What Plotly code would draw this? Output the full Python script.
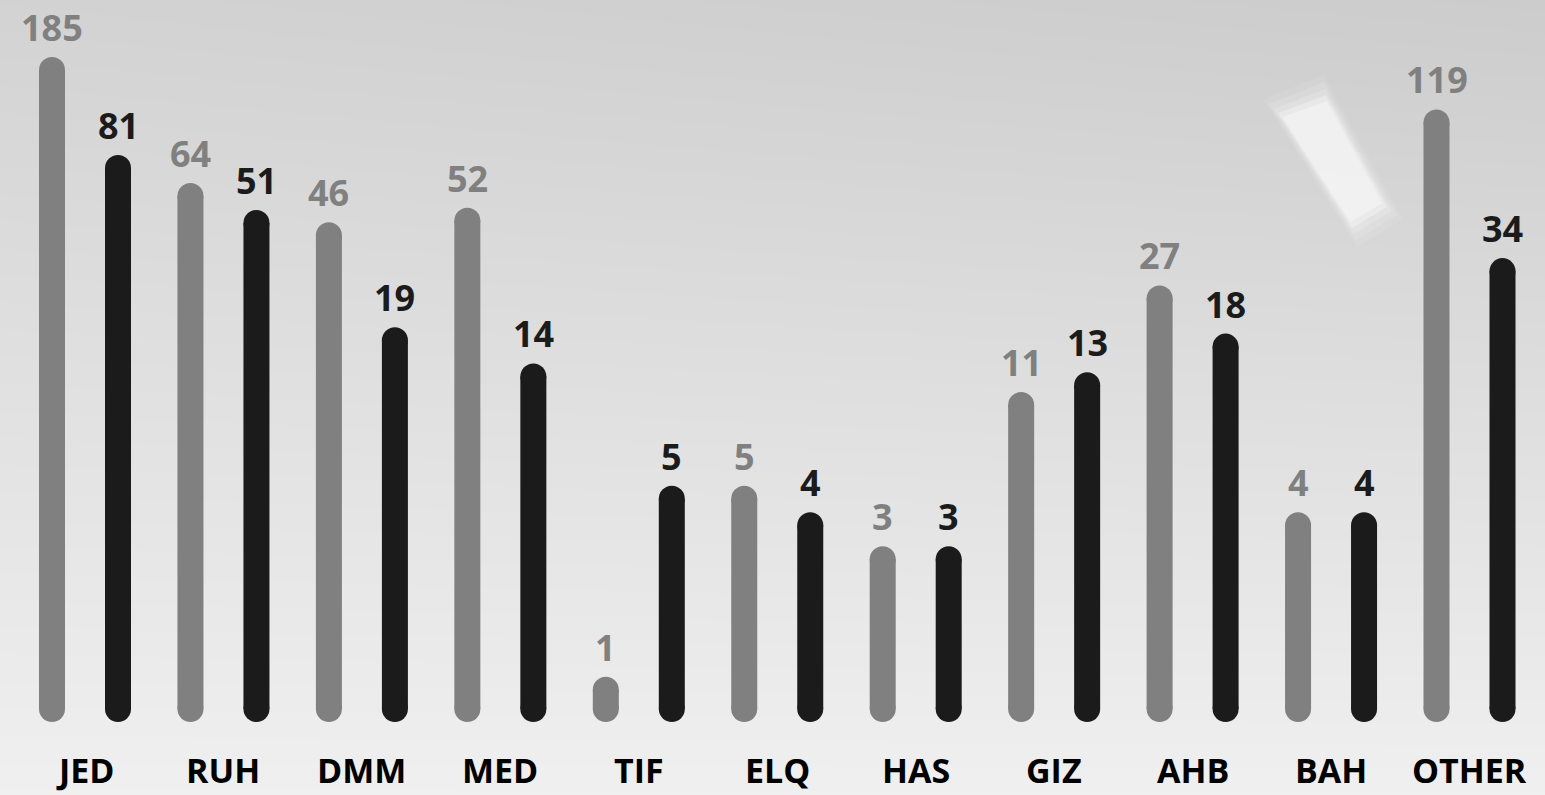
import numpy as np
import plotly.graph_objects as go

# Airport codes and the two series per airport
categories = ["JED", "RUH", "DMM", "MED", "TIF", "ELQ", "HAS", "GIZ", "AHB", "BAH", "OTHER"]
grey_values = [185, 64, 46, 52, 1, 5, 3, 11, 27, 4, 119]
dark_values = [81, 51, 19, 14, 5, 4, 3, 13, 18, 4, 34]

W, H = 1545, 795
GREY = "#808080"
DARK = "#1b1b1b"
FONT = "Open Sans"
BAR_PX = 26

# Log value axis: bars start at BASE, pixel layout of the plot area
BASE = 0.85
base_px_from_bottom = 86          # centre of bottom cap
top_value, top_px_from_bottom = 185, 725
px_per_decade = (top_px_from_bottom - base_px_from_bottom) / (np.log10(top_value) - np.log10(BASE))
y_lo = np.log10(BASE) - base_px_from_bottom / px_per_decade
y_hi = y_lo + H / px_per_decade

# Category axis: one unit per airport, pair centre of the first at 85 px
unit_px = 138.45
x_lo = -85 / unit_px
x_hi = x_lo + W / unit_px
offset = 33 / unit_px

fig = go.Figure()

# Soft grey backdrop (gradient, slightly darker towards the top right)
gx = np.linspace(0, 1, 40)
gy = np.linspace(0, 1, 40)
X, Y = np.meshgrid(gx, gy)
shade = 0.94 - 0.115 * Y - 0.025 * Y * X
fig.add_trace(go.Heatmap(
    x=gx, y=gy, z=shade, zmin=0, zmax=1, zsmooth="best",
    colorscale=[[0, "#000000"], [1, "#ffffff"]], showscale=False,
    hoverinfo="skip", xaxis="x", yaxis="y",
))


def pill_trace(xs, vals, color):
    px, py = [], []
    for x, v in zip(xs, vals):
        px += [x, x, None]
        py += [BASE, v, None]
    return go.Scatter(
        x=px, y=py, mode="lines+markers",
        line=dict(color=color, width=BAR_PX),
        marker=dict(color=color, size=BAR_PX, line=dict(width=0)),
        hoverinfo="skip", showlegend=False, xaxis="x2", yaxis="y2",
    )


idx = np.arange(len(categories))
grey_x = idx - offset
dark_x = idx + offset
fig.add_trace(pill_trace(grey_x, grey_values, GREY))
fig.add_trace(pill_trace(dark_x, dark_values, DARK))

annotations = []
for xs, vals, color in ((grey_x, grey_values, GREY), (dark_x, dark_values, DARK)):
    for x, v in zip(xs, vals):
        annotations.append(dict(
            x=x, y=np.log10(v), xref="x2", yref="y2", text=f"<b>{v}</b>",
            showarrow=False, yanchor="bottom", yshift=BAR_PX / 2 + 3,
            font=dict(family=FONT, size=36, color=color, weight=800),
        ))
for i, c in enumerate(categories):
    annotations.append(dict(
        x=i, y=0, xref="x2", yref="paper", text=f"<b>{c}</b>",
        showarrow=False, yanchor="bottom",
        font=dict(family=FONT, size=34, color="#000000", weight=800),
    ))


def paper_path(points):
    pts = [(x / W, 1 - y / H) for x, y in points]
    return "M " + " L ".join(f"{x:.4f},{y:.4f}" for x, y in pts) + " Z"


def lever(grow):
    # tapered lever outline, grown outwards by `grow` px
    cx, cy = 1334, 165
    pts = [(1278, 113), (1326, 95), (1387, 207), (1352, 228)]
    out = []
    for x, y in pts:
        dx, dy = x - cx, y - cy
        d = (dx * dx + dy * dy) ** 0.5
        out.append((x + grow * dx / d, y + grow * dy / d))
    return out


# Blurred cockpit lever in the backdrop, built up from soft layers
shapes = []
for grow, alpha in ((20, 0.10), (13, 0.14), (6, 0.20), (0, 0.35), (-6, 0.5)):
    shapes.append(dict(
        type="path", path=paper_path(lever(grow)), xref="paper", yref="paper",
        fillcolor=f"rgba(248,248,248,{alpha})", line=dict(width=0), layer="above",
    ))

fig.update_layout(
    width=W, height=H,
    margin=dict(l=0, r=0, t=0, b=0),
    paper_bgcolor="#e2e2e2", plot_bgcolor="rgba(0,0,0,0)",
    showlegend=False,
    xaxis=dict(range=[0, 1], visible=False, fixedrange=True),
    yaxis=dict(range=[0, 1], visible=False, fixedrange=True),
    xaxis2=dict(range=[x_lo, x_hi], overlaying="x", visible=False, fixedrange=True),
    yaxis2=dict(type="log", range=[y_lo, y_hi], overlaying="y", visible=False, fixedrange=True),
    annotations=annotations,
    shapes=shapes,
)

fig.write_html("out.html", config={"displayModeBar": False})
